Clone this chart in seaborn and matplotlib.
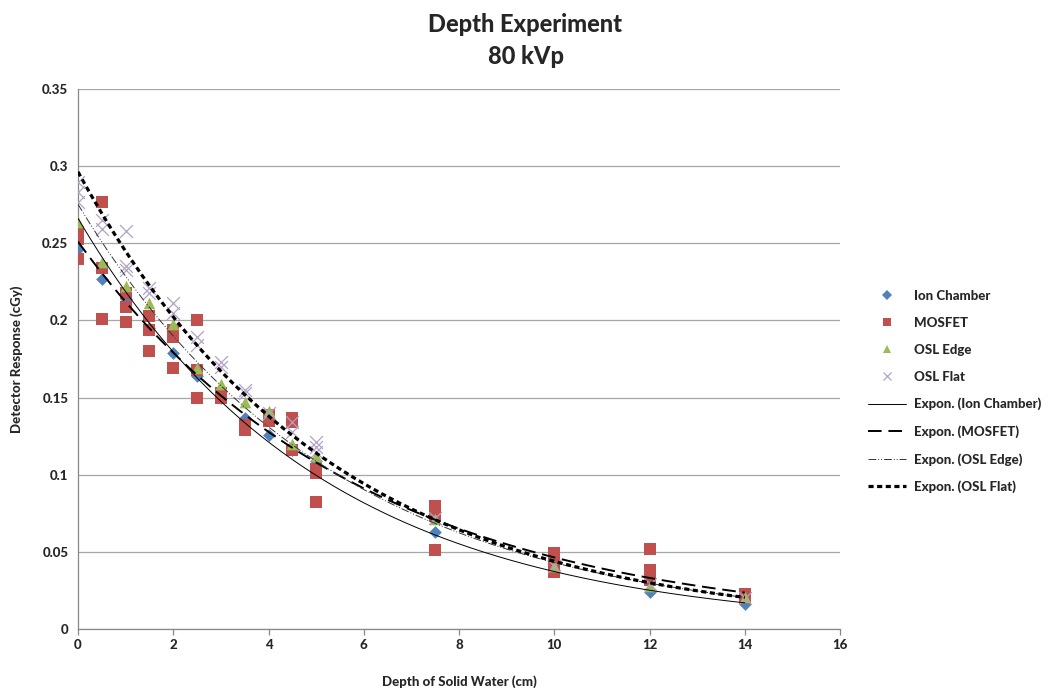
import numpy as np
import pandas as pd
import matplotlib
matplotlib.use("Agg")
import matplotlib.pyplot as plt
import seaborn as sns
from matplotlib.lines import Line2D
from matplotlib.ticker import FuncFormatter, MultipleLocator

# --- data ---
ion_depth = [0, 0.5, 1, 1.5, 2, 2.5, 3, 3.5, 4, 4.5, 5, 7.5, 10, 12, 14]
ion_resp = [0.246, 0.227, 0.214, 0.195, 0.179, 0.164, 0.150, 0.137, 0.126,
            0.116, 0.109, 0.063, 0.038, 0.024, 0.016]

mosfet_depth = [0, 0, 0, 0.5, 0.5, 0.5, 1, 1, 1, 1.5, 1.5, 1.5, 2, 2, 2,
                2.5, 2.5, 2.5, 3, 3, 3.5, 3.5, 4, 4, 4.5, 4.5, 4.5, 5, 5, 5,
                7.5, 7.5, 7.5, 10, 10, 10, 12, 12, 12, 14, 14]
mosfet_resp = [0.257, 0.253, 0.240, 0.277, 0.234, 0.201, 0.218, 0.209, 0.199,
               0.203, 0.194, 0.180, 0.194, 0.189, 0.169, 0.200, 0.168, 0.150,
               0.153, 0.150, 0.132, 0.129, 0.139, 0.135, 0.137, 0.134, 0.116,
               0.104, 0.101, 0.082, 0.080, 0.073, 0.051, 0.049, 0.043, 0.037,
               0.052, 0.038, 0.032, 0.023, 0.020]

edge_depth = [0, 0.5, 1, 1.5, 2, 2.5, 3, 3.5, 4, 4.5, 5, 7.5, 10, 12, 14]
edge_resp = [0.264, 0.238, 0.222, 0.211, 0.198, 0.169, 0.159, 0.147, 0.141,
             0.120, 0.112, 0.071, 0.041, 0.028, 0.021]

flat_depth = [0, 0, 0, 0.5, 0.5, 1, 1, 1, 1.5, 1.5, 2, 2, 2.5, 2.5, 3, 3,
              3.5, 3.5, 4, 4.5, 4.5, 5, 5, 5, 7.5, 10, 12, 14]
flat_resp = [0.290, 0.283, 0.277, 0.265, 0.259, 0.258, 0.235, 0.233, 0.221,
             0.218, 0.211, 0.205, 0.189, 0.184, 0.173, 0.170, 0.155, 0.153,
             0.140, 0.134, 0.128, 0.121, 0.118, 0.115, 0.072, 0.041, 0.029,
             0.020]

series = ["Ion Chamber", "MOSFET", "OSL Edge", "OSL Flat"]
colors = {"Ion Chamber": "#4F81BD", "MOSFET": "#C0504D",
          "OSL Edge": "#9BBB59", "OSL Flat": "#B3A2C7"}
markers = {"Ion Chamber": "D", "MOSFET": "s", "OSL Edge": "^", "OSL Flat": "x"}
sizes = {"Ion Chamber": 42, "MOSFET": 80, "OSL Edge": 70, "OSL Flat": 85}

df = pd.concat([
    pd.DataFrame({"depth": ion_depth, "resp": ion_resp, "det": "Ion Chamber"}),
    pd.DataFrame({"depth": mosfet_depth, "resp": mosfet_resp, "det": "MOSFET"}),
    pd.DataFrame({"depth": edge_depth, "resp": edge_resp, "det": "OSL Edge"}),
    pd.DataFrame({"depth": flat_depth, "resp": flat_resp, "det": "OSL Flat"}),
], ignore_index=True)

sns.set_style("white")
plt.rcParams["font.family"] = ["Lato", "DejaVu Sans"]
W = 900  # heaviest weight available

fig = plt.figure(figsize=(10.51, 6.92), dpi=100)
ax = fig.add_axes([78 / 1051, 1 - 629 / 692, (840 - 78) / 1051, (629 - 89) / 692])

# scatter points, one series at a time so every marker keeps its own look
for name in series:
    sub = df[df["det"] == name]
    kw = dict(linewidth=0) if markers[name] != "x" else dict(linewidth=0.9)
    sns.scatterplot(data=sub, x="depth", y="resp", ax=ax, color=colors[name],
                    marker=markers[name], s=sizes[name], legend=False,
                    zorder=3, **kw)

# exponential trendlines (least squares in log space, like Excel)
line_styles = {
    "Ion Chamber": dict(color="black", lw=0.7, ls="-"),
    "MOSFET": dict(color="black", lw=1.4, ls=(0, (7, 3.5))),
    "OSL Edge": dict(color="#333333", lw=0.7, ls=(0, (8, 2, 1, 2, 1, 2))),
    "OSL Flat": dict(color="black", lw=2.3, ls=(0, (1.6, 1.1))),
}
xs = np.linspace(0, 14, 200)
for name in series:
    sub = df[df["det"] == name]
    b, a = np.polyfit(sub["depth"], np.log(sub["resp"]), 1)
    ax.plot(xs, np.exp(a) * np.exp(b * xs), zorder=4, **line_styles[name])

ax.set_xlim(0, 16)
ax.set_ylim(0, 0.35)
ax.xaxis.set_major_locator(MultipleLocator(2))
ax.yaxis.set_major_locator(MultipleLocator(0.05))
ax.yaxis.set_major_formatter(FuncFormatter(lambda v, p: f"{v:g}"))
ax.grid(axis="y", color="#A6A6A6", lw=0.9)
ax.grid(axis="x", visible=False)
for s in ["top", "right"]:
    ax.spines[s].set_visible(False)
for s in ["left", "bottom"]:
    ax.spines[s].set_color("#888888")
    ax.spines[s].set_linewidth(0.9)
ax.tick_params(axis="x", bottom=True, length=4, color="#888888", width=0.9)
ax.tick_params(axis="y", left=False)
for lab in ax.get_xticklabels() + ax.get_yticklabels():
    lab.set_fontweight(W)
    lab.set_fontsize(9.5)
ax.set_xlabel("Depth of Solid Water (cm)", fontweight=W, fontsize=9.5, labelpad=17)
ax.set_ylabel("Detector Response (cGy)", fontweight=W, fontsize=9.5, labelpad=14)

# chart title is centred on the whole figure
fig.text(0.5, 1 - 25 / 692, "Depth Experiment", ha="center", va="center",
         fontsize=17, fontweight=W)
fig.text(0.5, 1 - 56 / 692, "80 kVp", ha="center", va="center",
         fontsize=17, fontweight=W)

handles = [Line2D([], [], ls="none", marker=markers[n], color=colors[n],
                  markersize=6 if n != "Ion Chamber" else 5,
                  markeredgewidth=0.9 if n == "OSL Flat" else 0) for n in series]
handles += [Line2D([], [], **line_styles[n]) for n in series]
labels = series + [f"Expon. ({n})" for n in series]
leg = fig.legend(handles, labels, loc="upper left",
                 bbox_to_anchor=(868 / 1051, 1 - 290 / 692), frameon=False,
                 borderpad=0, borderaxespad=0, labelspacing=1.13,
                 handlelength=2.9, handletextpad=0.6,
                 prop={"weight": W, "size": 9.5})

fig.savefig("out.png", dpi=100)
